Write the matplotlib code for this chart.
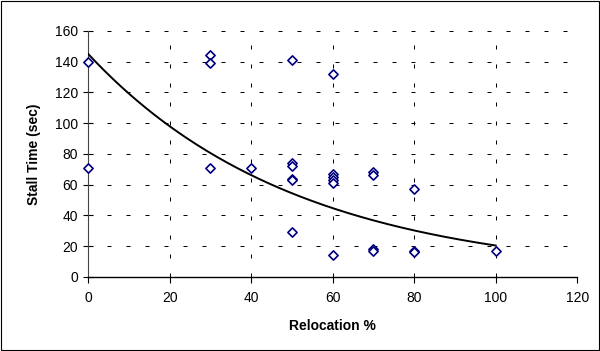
import numpy as np
import matplotlib
matplotlib.use('Agg')
import matplotlib.pyplot as plt
from matplotlib.patches import Rectangle

# data
relocation = [0, 0,
              30, 30, 30,
              40,
              50, 50, 50, 50, 50, 50,
              60, 60, 60, 60, 60, 60,
              70, 70, 70, 70,
              80, 80, 80,
              100]
stall_time = [140, 71,
              144, 139, 71,
              71,
              141, 74, 72, 64, 63, 29,
              132, 67, 65, 63, 61, 14,
              68, 66, 18, 17,
              57, 17, 16,
              17]

# exponential trendline y = a*exp(b*x), coefficients
trend_a = 145.0
trend_b = -0.0196
trend_range = (0, 100)

xticks = [0, 20, 40, 60, 80, 100, 120]
yticks = [0, 20, 40, 60, 80, 100, 120, 140, 160]

plt.rcParams['font.family'] = ['Liberation Sans', 'DejaVu Sans']

fig = plt.figure(figsize=(6, 3.51), dpi=100)
ax = fig.add_axes([0.147, 0.211, 0.815, 0.701])

# grid (dashed, sparse like the original)
for xv in xticks[1:]:
    ax.axvline(xv, color='k', lw=0.72, ls=(0, (4, 15)), zorder=1)
for yv in yticks[1:]:
    ax.axhline(yv, color='k', lw=0.72, ls=(0, (4, 15)), zorder=1)

ax.scatter(relocation, stall_time, marker='D', s=22, facecolor='white',
           edgecolor='#000080', linewidth=1.2, zorder=5, clip_on=False)

xt = np.linspace(trend_range[0], trend_range[1], 200)
ax.plot(xt, trend_a*np.exp(trend_b*xt), color='k', lw=1.4, zorder=4)

ax.set_xlim(0, 120)
ax.set_ylim(0, 160)
ax.set_xticks(xticks)
ax.set_yticks(yticks)
ax.tick_params(axis='both', labelsize=10, length=4, width=0.8, color='k')
ax.tick_params(axis='y', direction='inout', length=7, pad=4)
ax.tick_params(axis='x', direction='out', pad=6)

for s in ['top', 'right']:
    ax.spines[s].set_visible(False)
ax.spines['left'].set_color('#444444')
ax.spines['bottom'].set_linewidth(1.0)

ax.set_xlabel('Relocation %', fontsize=10, fontweight='bold', labelpad=10)
ax.set_ylabel('Stall Time (sec)', fontsize=10, fontweight='bold', labelpad=10)

# outer chart border
fig.patches.append(Rectangle((0.002, 0.003), 0.996, 0.994, transform=fig.transFigure,
                             fill=False, edgecolor='k', lw=0.8))

plt.savefig('out.png', dpi=100)
plt.close('all')
